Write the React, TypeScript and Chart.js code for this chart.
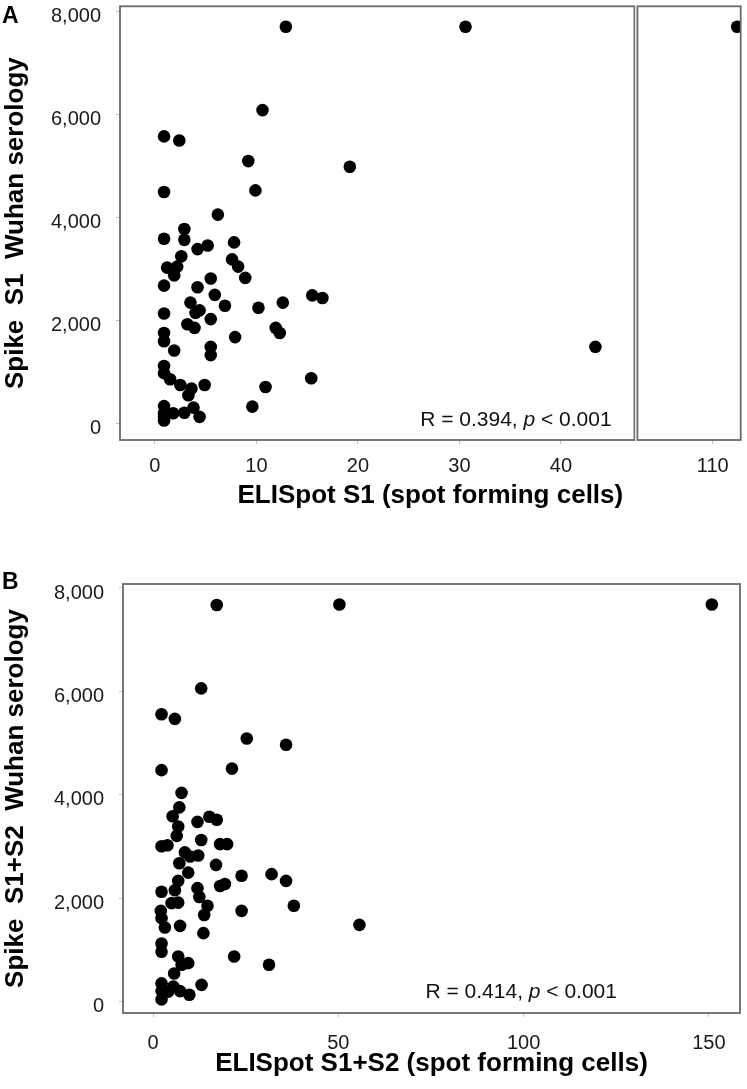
import { useEffect, useRef } from 'react';
import { Chart, registerables } from 'chart.js';

Chart.register(...registerables);

const FONT = "'Liberation Sans', Arial, Helvetica, sans-serif";

// Panel A: ELISpot S1 vs Spike S1 Wuhan serology
const s1Spots = [
  12.9, 30.6, 10.6, 0.9, 2.4, 9.2, 19.2, 0.9, 9.9, 6.2, 2.9, 0.9, 2.9, 4.2, 5.2, 7.8, 2.6, 7.6,
  1.2, 2.2, 1.9, 8.2, 8.9, 0.9, 5.5, 4.2, 5.9, 3.5, 4.4, 4.0, 6.9, 10.2, 12.6, 15.5, 16.5, 0.9,
  5.5, 3.2, 3.9, 11.9, 12.3, 7.9, 0.9, 0.9, 1.9, 5.5, 5.5, 0.9, 0.9, 1.5, 2.5, 3.6, 3.3, 4.9,
  10.9, 15.4, 9.6, 0.9, 0.9, 0.9, 1.8, 2.9, 3.8, 4.4, 43.4, 0.9,
];
const s1Serology = [
  7700, 7700, 6080, 5570, 5490, 5090, 4980, 4490, 4520, 4050, 3770, 3580, 3560, 3380, 3450, 3510, 3240, 3180,
  3020, 3040, 2870, 3040, 2820, 2670, 2810, 2640, 2490, 2340, 2190, 2140, 2280, 2240, 2340, 2480, 2430, 2130,
  2020, 1920, 1850, 1850, 1750, 1670, 1750, 1590, 1410, 1480, 1320, 1110, 970, 850, 740, 670, 540, 740,
  700, 870, 320, 330, 190, 50, 190, 200, 300, 120, 1480, 120,
];
// the single patient drawn past the axis break
const s1BreakSpots = [112.4];
const s1BreakSerology = [7700];
const s1Ticks = [0, 10, 20, 30, 40];
const s1BreakTicks = [110];

// Panel B: ELISpot S1+S2 vs Spike S1+S2 Wuhan serology
const s12Spots = [
  17.2, 50.3, 150.8, 13.0, 2.3, 5.9, 25.3, 35.9, 2.3, 21.3, 7.7, 7.1, 5.3, 12.0, 15.2, 17.2, 6.8, 6.4,
  13.0, 2.3, 3.9, 18.1, 20.0, 8.6, 10.0, 12.2, 7.1, 17.0, 9.5, 23.9, 32.0, 35.9, 6.8, 5.9, 2.3, 12.0,
  12.5, 18.1, 19.4, 5.0, 6.8, 14.7, 13.8, 23.9, 38.0, 55.7, 2.1, 2.3, 3.2, 7.3, 13.6, 2.3, 2.3, 21.9,
  31.3, 6.8, 9.5, 7.7, 5.7, 13.1, 2.3, 5.5, 7.3, 9.8, 2.3, 2.3, 4.1,
];
const s12Serology = [
  7670, 7680, 7680, 6060, 5560, 5470, 5090, 4970, 4480, 4510, 4040, 3760, 3590, 3480, 3580, 3520, 3390, 3210,
  3130, 3010, 3030, 3050, 3050, 2890, 2810, 2830, 2680, 2650, 2500, 2440, 2470, 2340, 2340, 2160, 2130, 2200,
  2030, 2240, 2280, 1910, 1920, 1860, 1680, 1760, 1860, 1490, 1760, 1620, 1440, 1470, 1330, 1130, 970, 880,
  720, 880, 750, 720, 550, 330, 360, 300, 210, 140, 210, 50, 200,
];
const s12Ticks = [0, 50, 100, 150];

const serologyTicks = [0, 2000, 4000, 6000, 8000];

const toPoints = (xs: number[], ys: number[]) => xs.map((x, i) => ({ x, y: ys[i] }));

const decor = {
  id: 'decor',
  afterDraw(chart: any, _args: any, opts: any) {
    const { ctx, chartArea: a } = chart;
    ctx.save();

    // frames (one per x segment, with a small white gap at the break)
    const ids: string[] = opts.frames;
    ctx.strokeStyle = '#6a6a6a';
    ctx.lineWidth = 1.8;
    ids.forEach((id, i) => {
      const s = chart.scales[id];
      const l = i > 0 ? s.left + 1.5 : s.left;
      const r = i < ids.length - 1 ? s.right - 1.5 : s.right;
      if (i > 0) {
        ctx.fillStyle = '#ffffff';
        ctx.fillRect(s.left - 0.5, a.top - 1, 1, a.bottom - a.top + 2);
      }
      ctx.strokeRect(l, a.top, r - l, a.bottom - a.top);
    });

    // x axis title, centred under the whole plot area
    ctx.fillStyle = '#000';
    ctx.font = `bold 26px ${FONT}`;
    ctx.textAlign = 'center';
    ctx.textBaseline = 'middle';
    ctx.fillText(opts.xTitle, (a.left + a.right) / 2, a.bottom + opts.xTitleOffset);

    // panel letter
    ctx.font = `bold 23px ${FONT}`;
    ctx.textAlign = 'left';
    ctx.textBaseline = 'top';
    ctx.fillText(opts.letter, opts.letterAt[0], opts.letterAt[1]);

    // correlation note, right aligned at a value of the x scale
    const n = opts.note;
    const parts: { t: string; italic?: boolean }[] = n.parts;
    const fontFor = (p: { italic?: boolean }) => `${p.italic ? 'italic ' : ''}21px ${FONT}`;
    const total = parts.reduce((w, p) => {
      ctx.font = fontFor(p);
      return w + ctx.measureText(p.t).width;
    }, 0);
    let x = chart.scales[n.scale].getPixelForValue(n.at) - total;
    const y = a.bottom - n.dy;
    ctx.fillStyle = '#111';
    ctx.textBaseline = 'middle';
    parts.forEach((p) => {
      ctx.font = fontFor(p);
      ctx.fillText(p.t, x, y);
      x += ctx.measureText(p.t).width;
    });

    ctx.restore();
  },
};

const tickStyle = (padding: number) => ({
  font: { family: FONT, size: 20 },
  color: '#1a1a1a',
  padding,
});

const tickGrid = { drawOnChartArea: false, drawTicks: true, tickLength: 4, color: '#c4c4c4' };

function yScale(min: number, max: number, width: number) {
  return {
    type: 'linear',
    min,
    max,
    afterBuildTicks: (s: any) => {
      s.ticks = serologyTicks.map((v) => ({ value: v }));
    },
    afterFit: (s: any) => {
      s.width = width;
      s.paddingTop = 0;
      s.paddingBottom = 0;
    },
    grid: tickGrid,
    border: { display: false },
    ticks: { ...tickStyle(15), labelOffset: 5, callback: (v: any) => Number(v).toLocaleString('en-US') },
  };
}

function xScale(min: number, max: number, ticks: number[], height: number, pad: number, extra: any = {}) {
  return {
    type: 'linear',
    position: 'bottom',
    min,
    max,
    afterBuildTicks: (s: any) => {
      s.ticks = ticks.map((v) => ({ value: v }));
    },
    afterFit: (s: any) => {
      s.height = height;
      s.paddingLeft = 0;
      s.paddingRight = 0;
    },
    grid: tickGrid,
    border: { display: false },
    ticks: tickStyle(pad),
    ...extra,
  };
}

const yTitle = (text: string) => ({
  display: true,
  text,
  color: '#000',
  font: { family: FONT, size: 26, weight: 'bold' },
  padding: 0,
});

const pointStyle = {
  type: 'scatter' as const,
  pointRadius: 6.3,
  pointHoverRadius: 6.3,
  backgroundColor: '#000',
  borderWidth: 0,
};

function PanelA() {
  const ref = useRef<HTMLCanvasElement>(null);
  useEffect(() => {
    if (!ref.current) return;
    const chart = new Chart(ref.current, {
      type: 'scatter',
      data: {
        datasets: [
          { ...pointStyle, data: toPoints(s1Spots, s1Serology), xAxisID: 'x', yAxisID: 'y' },
          { ...pointStyle, data: toPoints(s1BreakSpots, s1BreakSerology), xAxisID: 'x2', yAxisID: 'y' },
        ],
      },
      options: {
        responsive: false,
        animation: false,
        layout: { padding: { left: 0, top: 5, right: 5, bottom: 0 } },
        scales: {
          x: xScale(-3.44, 47.39, s1Ticks, 100, 10, { stack: 'spots', stackWeight: 517 }),
          x2: xScale(102.43, 112.75, s1BreakTicks, 100, 10, { axis: 'x', stack: 'spots', stackWeight: 105 }),
          y: { ...yScale(-329, 8097, 120), title: yTitle('Spike  S1  Wuhan serology') },
        },
        plugins: {
          legend: { display: false },
          tooltip: { enabled: false },
          decor: {
            frames: ['x', 'x2'],
            xTitle: 'ELISpot S1 (spot forming cells)',
            xTitleOffset: 56,
            letter: 'A',
            letterAt: [2, 5],
            note: {
              scale: 'x',
              at: 45,
              dy: 20,
              parts: [{ t: 'R = 0.394, ' }, { t: 'p', italic: true }, { t: ' < 0.001' }],
            },
          },
        } as any,
      } as any,
      plugins: [decor],
    });
    return () => chart.destroy();
  }, []);
  return <canvas ref={ref} width={747} height={540} style={{ display: 'block' }} />;
}

function PanelB() {
  const ref = useRef<HTMLCanvasElement>(null);
  useEffect(() => {
    if (!ref.current) return;
    const chart = new Chart(ref.current, {
      type: 'scatter',
      data: {
        datasets: [{ ...pointStyle, data: toPoints(s12Spots, s12Serology) }],
      },
      options: {
        responsive: false,
        animation: false,
        layout: { padding: { left: 0, top: 44, right: 7, bottom: 0 } },
        scales: {
          x: xScale(-8.1, 158.4, s12Ticks, 76, 14),
          y: { ...yScale(-213, 8077, 123), title: yTitle('Spike  S1+S2  Wuhan serology') },
        },
        plugins: {
          legend: { display: false },
          tooltip: { enabled: false },
          decor: {
            frames: ['x'],
            xTitle: 'ELISpot S1+S2 (spot forming cells)',
            xTitleOffset: 51,
            letter: 'B',
            letterAt: [2, 31],
            note: {
              scale: 'x',
              at: 125.2,
              dy: 21,
              parts: [{ t: 'R = 0.414, ' }, { t: 'p', italic: true }, { t: ' < 0.001' }],
            },
          },
        } as any,
      } as any,
      plugins: [decor],
    });
    return () => chart.destroy();
  }, []);
  return <canvas ref={ref} width={747} height={549} style={{ display: 'block' }} />;
}

export default function App() {
  return (
    <div style={{ position: 'absolute', left: 0, top: 0, width: 747, height: 1089, background: '#fff' }}>
      <PanelA />
      <PanelB />
    </div>
  );
}
